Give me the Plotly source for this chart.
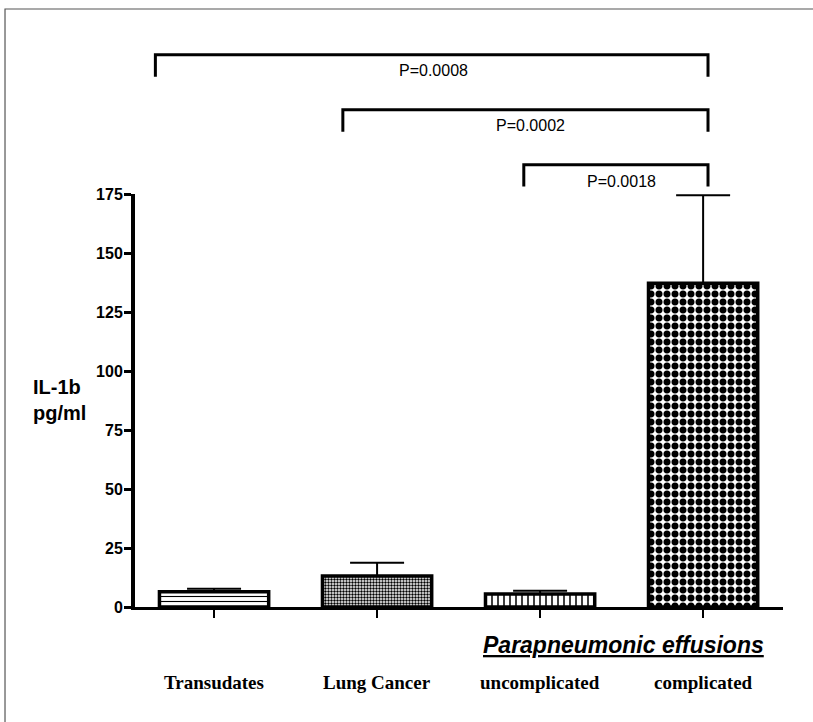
import plotly.graph_objects as go

# ---------------- data ----------------
categories = ["Transudates", "Lung Cancer", "uncomplicated", "complicated"]
means = [6.5, 13.1, 5.5, 137.2]
sem_up = [1.2, 5.6, 1.4, 37.3]
y_ticks = [0, 25, 50, 75, 100, 125, 150, 175]
comparisons = [  # (left group index, right group index, label)
    (0, 3, "P=0.0008"),
    (1, 3, "P=0.0002"),
    (2, 3, "P=0.0018"),
]
group_label = "Parapneumonic effusions"
y_title_lines = ["IL-1b", "pg/ml"]

# ---------------- styles ----------------
patterns = [
    dict(shape="-", size=5, solidity=0.22),
    dict(shape=".", size=3, solidity=0.5),
    dict(shape="|", size=6, solidity=0.25),
    dict(shape=".", size=8, solidity=0.6),
]
bracket_left_offset = [-0.36, -0.21, -0.10]
bracket_right_offset = [0.03, 0.03, 0.03]
bracket_y = [1.337, 1.204, 1.071]
bracket_drop = 0.053
label_y = [1.298, 1.167, 1.031]
label_x_offset = [1.345, 1.94, 2.50]

fig = go.Figure()
for i, cat in enumerate(categories):
    p = patterns[i]
    fig.add_trace(go.Bar(
        x=[cat], y=[means[i]], width=0.67,
        marker=dict(color="white", line=dict(color="black", width=3.5),
                    pattern=dict(shape=p["shape"], size=p["size"], solidity=p["solidity"],
                                 fgcolor="black", bgcolor="white", fillmode="replace")),
        error_y=dict(type="data", symmetric=False, array=[sem_up[i]], arrayminus=[0],
                     color="black", thickness=2, width=27),
        showlegend=False,
    ))

# brackets
for k, (a, b, txt) in enumerate(comparisons):
    xl = a + bracket_left_offset[k]
    xr = b + bracket_right_offset[k]
    yb = bracket_y[k]
    fig.add_shape(type="path", xref="x", yref="paper",
                  path=f"M {xl},{yb - bracket_drop} L {xl},{yb} L {xr},{yb} L {xr},{yb - bracket_drop}",
                  line=dict(color="black", width=3))
    fig.add_annotation(x=label_x_offset[k], y=label_y[k], xref="x", yref="paper",
                       xanchor="center", yanchor="middle",
                       text=txt, showarrow=False,
                       font=dict(family="Liberation Sans, Arial", size=16, color="black"))

# category labels
for cat in categories:
    fig.add_annotation(x=cat, y=-0.1816, xref="x", yref="paper", text=f"<b>{cat}</b>",
                       xanchor="center", yanchor="middle", showarrow=False,
                       font=dict(family="Liberation Serif, Times New Roman", size=19, color="black"))

# group label
fig.add_annotation(x=2.51, y=-0.092, xref="x", yref="paper",
                   xanchor="center", yanchor="middle",
                   text=f"<b><i><u>{group_label}</u></i></b>", showarrow=False,
                   font=dict(family="Liberation Sans, Arial", size=23, color="black"))

# y title
fig.add_annotation(x=-0.116, y=0.501, xref="paper", yref="paper",
                   text="<b>" + "<br>".join(y_title_lines) + "</b>", showarrow=False,
                   align="left", xanchor="center", yanchor="middle",
                   font=dict(family="Liberation Sans, Arial", size=20, color="black"))

# outer frame
fig.add_shape(type="rect", xref="paper", yref="paper",
              x0=-0.2006, y0=-0.40, x1=1.10, y1=1.448,
              line=dict(color="#555555", width=1.2), fillcolor="rgba(0,0,0,0)", layer="below")

fig.update_layout(
    width=813, height=722,
    margin=dict(l=135, r=30, t=194, b=115),
    paper_bgcolor="white", plot_bgcolor="white",
    bargap=0.33,
    xaxis=dict(type="category", range=[-0.485, 3.49], showline=True, linecolor="black",
               linewidth=3, ticks="outside", ticklen=8, tickwidth=2, tickcolor="black",
               showticklabels=False, showgrid=False, zeroline=False, fixedrange=True),
    yaxis=dict(range=[0, 175], tickvals=y_ticks, showline=True, linecolor="black",
               linewidth=4, ticks="outside", ticklen=7, tickwidth=3, tickcolor="black",
               ticklabelstandoff=-2,
               tickfont=dict(family="Liberation Sans, Arial", size=16, color="black", weight="bold"),
               showgrid=False, zeroline=False, fixedrange=True),
)

fig.write_html("out.html", config={"displayModeBar": False},
               post_script="document.body.style.margin='0px';")
